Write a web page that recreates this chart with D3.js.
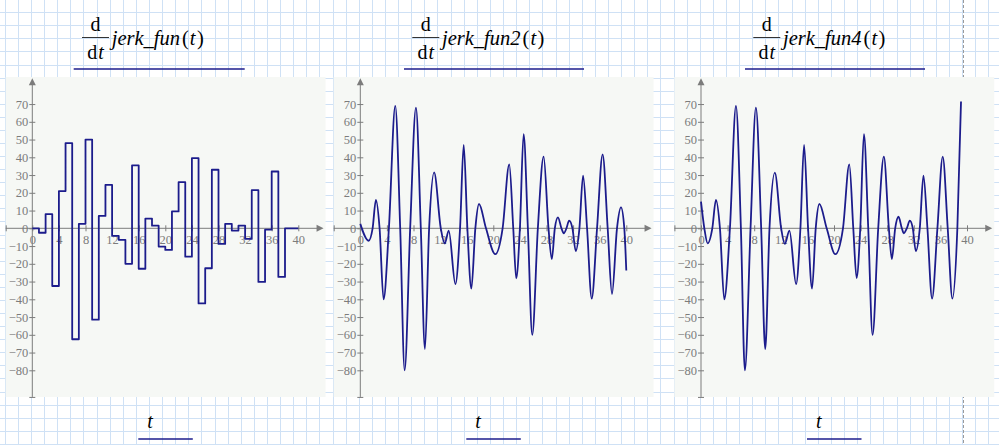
<!DOCTYPE html>
<html>
<head>
<meta charset="utf-8">
<script src="https://cdn.jsdelivr.net/npm/d3@7"></script>
<style>
html, body { margin: 0; padding: 0; background: #fff; }
svg { display: block; }
</style>
</head>
<body>
<script>
var width = 999,
    height = 445;

// tick values shown on the axes
var xTicks = [-4, 0, 4, 8, 12, 16, 20, 24, 28, 32, 36, 40];
var yTicks = [-95, -80, -70, -60, -50, -40, -30, -20, -10, 0, 10, 20, 30, 40, 50, 60, 70];

// d/dt jerk_fun(t): piecewise constant, one value per unit interval
var stepT = [0, 1, 2, 3, 4, 5, 6, 7, 8, 9, 10, 11, 12, 13, 14, 15, 16, 17, 18, 19,
             20, 21, 22, 23, 24, 25, 26, 27, 28, 29, 30, 31, 32, 33, 34, 35, 36, 37, 38, 39, 40];
var stepV = [0, -2.5, 8, -32.5, 21, 48, -62.5, 2.5, 50, -51.5, 7, 24.5, -4.3, -6.5, -20, 35.5,
             -22.8, 5.5, 1.5, -10.3, -12.2, 9.5, 26, -16, 39.5, -42.3, -22.5, 33, -8.8, 2.5,
             -1.3, 1.5, -6, 21.5, -30.2, -0.8, 32, -27.4, 0, 0, 0];

// d/dt jerk_fun2(t): extrema and zero crossings
var fun2T = [0, 1.25, 1.85, 2.35, 2.9, 3.5, 4.3, 5.26, 6.0, 6.67, 7.5, 8.37, 9.1, 9.72, 10.35,
             11.1, 12.1, 12.7, 13.3, 14.3, 15.0, 15.55, 16.1, 16.7, 17.3, 17.85, 18.9, 20.3,
             21.4, 22.4, 23.0, 23.45, 24.0, 24.56, 25.2, 25.86, 26.7, 27.57, 28.3, 28.8, 29.25,
             29.72, 30.25, 30.6, 31.0, 31.4, 31.9, 32.4, 32.95, 33.5, 34.1, 34.8, 35.6, 36.44,
             37.2, 37.85, 38.6, 39.2, 39.7, 40];
var fun2V = [2.5, -7, 0, 16, 0, -40, 0, 69, 0, -80, 0, 68, 0, -68, 0,
             31.5, 0, -8.6, -1.3, -31.4, 0, 47, 0, -34, 0, 13.7, 0, -14.6,
             0, 36, 0, -28.2, 0, 53, 0, -60, 0, 40.4, 0, -17.3, 0,
             6.2, 0, -2.8, 0, 4.3, 0, -12.8, 0, 29.7, 0, -39.6, 0, 41.7,
             0, -37, 0, 11.8, 0, -23.8];

// d/dt jerk_fun4(t)
var fun4T = [0, 0.5, 1.0, 1.7, 2.25, 2.85, 3.5, 4.35, 5.26, 6.0, 6.6, 7.45, 8.26, 9.05, 9.66,
             10.3, 11.1, 12.05, 12.6, 13.3, 14.3, 14.95, 15.5, 16.1, 16.7, 17.25, 17.8, 18.9,
             20.2, 21.35, 22.3, 22.9, 23.4, 23.95, 24.5, 25.15, 25.8, 26.65, 27.5, 28.25, 28.7,
             29.2, 29.7, 30.2, 30.5, 30.95, 31.4, 31.85, 32.3, 32.9, 33.45, 34.05, 34.75, 35.55,
             36.35, 37.1, 37.8, 38.55, 39.1];
var fun4V = [15, 0, -8.5, 0, 16, 0, -40, 0, 69, 0, -80, 0, 68, 0, -68,
             0, 31.4, 0, -8.8, -1.3, -31.4, 0, 47, 0, -34, 0, 13.7, 0,
             -14.6, 0, 36, 0, -28, 0, 53, 0, -60, 0, 40.4, 0, -17.3,
             0, 6.5, 0, -2.8, 0, 4.3, 0, -12.8, 0, 29.7, 0, -39.6, 0,
             40.4, 0, -39.6, 0, 71.4];

var names = ["jerk_fun", "jerk_fun2", "jerk_fun4"];

var panels = [
    {axisX: 32.3, head: 82, lineW: 171, t: stepT, v: stepV, curve: d3.curveStepAfter},
    {axisX: 360.3, head: 412.3, lineW: 180, t: fun2T, v: fun2V, curve: d3.curveMonotoneX},
    {axisX: 701, head: 753.3, lineW: 180, t: fun4T, v: fun4V, curve: d3.curveMonotoneX}
];

var ink = "#1c1c8c",
    axisGray = "#7c7c7c",
    serif = "'Liberation Serif', 'DejaVu Serif', serif";

var svg = d3.select("body").append("svg")
    .attr("width", width)
    .attr("height", height);

// graph paper
var grid = svg.append("g")
    .attr("stroke", "#cfe1f5")
    .attr("stroke-width", 1);
for (var gx = 5.2; gx < width; gx += 13.115) {
    grid.append("line")
        .attr("x1", Math.floor(gx) + 0.5).attr("x2", Math.floor(gx) + 0.5)
        .attr("y1", 0).attr("y2", height);
}
for (var gy = 12.7; gy < height; gy += 13.08) {
    grid.append("line")
        .attr("y1", Math.floor(gy) + 0.5).attr("y2", Math.floor(gy) + 0.5)
        .attr("x1", 0).attr("x2", width);
}

// page break
svg.append("line")
    .attr("x1", 963.5).attr("x2", 963.5)
    .attr("y1", 0).attr("y2", height)
    .attr("stroke", "#9a9a9a")
    .attr("stroke-dasharray", "3,2");

panels.forEach(function(p, i) {
    var x = d3.scaleLinear().domain([0, 40]).range([p.axisX, p.axisX + 266]);
    var y = d3.scaleLinear().domain([-80, 70]).range([370.3, 104.05]);

    var g = svg.append("g");

    g.append("rect")
        .attr("x", x(-4))
        .attr("y", 77)
        .attr("width", x(44.1) - x(-4))
        .attr("height", 320)
        .attr("fill", "#f6f8f5");

    // axis lines with arrow heads
    var x0 = x(-4), x1 = x(43.8), y0 = y(0);
    var yb = y(-95), yt = y(84.5), ax = p.axisX;
    g.append("line")
        .attr("x1", x0).attr("x2", x1 - 5)
        .attr("y1", y0).attr("y2", y0)
        .attr("stroke", axisGray);
    g.append("path")
        .attr("d", "M" + x1 + "," + y0 + "L" + (x1 - 7) + "," + (y0 - 3.5) + "L" + (x1 - 7) + "," + (y0 + 3.5) + "Z")
        .attr("fill", axisGray);
    g.append("line")
        .attr("x1", ax).attr("x2", ax)
        .attr("y1", yb).attr("y2", yt + 5)
        .attr("stroke", axisGray);
    g.append("path")
        .attr("d", "M" + ax + "," + yt + "L" + (ax - 3.5) + "," + (yt + 7) + "L" + (ax + 3.5) + "," + (yt + 7) + "Z")
        .attr("fill", axisGray);

    var xAxis = d3.axisBottom(x)
        .tickValues(xTicks)
        .tickSize(3)
        .tickPadding(4)
        .tickFormat(function(d) { return d < 0 ? "" : d; });
    var gxA = g.append("g")
        .attr("transform", "translate(0," + y0 + ")")
        .call(xAxis);
    gxA.select(".domain").remove();
    gxA.selectAll(".tick line").attr("y1", -3);

    var yAxis = d3.axisLeft(y)
        .tickValues(yTicks)
        .tickSize(3)
        .tickPadding(1)
        .tickFormat(function(d) { return d < -80 ? "" : d3.format("d")(d); });
    var gyA = g.append("g")
        .attr("transform", "translate(" + ax + ",0)")
        .call(yAxis);
    gyA.select(".domain").remove();
    gyA.selectAll(".tick line").attr("x1", 3);

    [gxA, gyA].forEach(function(a) {
        a.attr("color", axisGray)
            .attr("font-family", serif)
            .attr("font-size", 12.5);
    });

    // the derivative
    var line = d3.line()
        .x(function(d) { return x(d[0]); })
        .y(function(d) { return y(d[1]); })
        .curve(p.curve);
    g.append("path")
        .datum(d3.zip(p.t, p.v))
        .attr("fill", "none")
        .attr("stroke", ink)
        .attr("stroke-width", 1.8)
        .attr("stroke-linejoin", "round")
        .attr("d", line);

    // header  d/dt name(t)
    var h = p.head;
    g.append("line")
        .attr("x1", h).attr("x2", h + 27)
        .attr("y1", 37.5).attr("y2", 37.5)
        .attr("stroke", "#333");
    g.append("text")
        .attr("x", h + 13.5).attr("y", 31)
        .attr("text-anchor", "middle")
        .attr("font-family", serif).attr("font-size", 20)
        .text("d");
    var dt = g.append("text")
        .attr("x", h + 13.5).attr("y", 59)
        .attr("text-anchor", "middle")
        .attr("font-family", serif).attr("font-size", 20);
    dt.append("tspan").text("d");
    dt.append("tspan").attr("dx", 1).attr("font-style", "italic").text("t");

    var fn = g.append("text")
        .attr("x", h + 29.7).attr("y", 45)
        .attr("font-family", serif).attr("font-size", 20.5);
    fn.append("tspan").attr("font-style", "italic").text(names[i]);
    fn.append("tspan").attr("dx", 2).text("(");
    fn.append("tspan").attr("dx", 1).attr("font-style", "italic").text("t");
    fn.append("tspan").attr("dx", 1.5).text(")");

    g.append("line")
        .attr("x1", h - 8.3).attr("x2", h - 8.3 + p.lineW)
        .attr("y1", 69).attr("y2", 69)
        .attr("stroke", ink).attr("stroke-width", 1.6);

    // x label
    g.append("text")
        .attr("x", ax + 115).attr("y", 428)
        .attr("font-family", serif).attr("font-size", 20)
        .attr("font-style", "italic")
        .text("t");
    g.append("line")
        .attr("x1", ax + 106).attr("x2", ax + 160.5)
        .attr("y1", 439).attr("y2", 439)
        .attr("stroke", ink).attr("stroke-width", 1.6);
});
</script>
</body>
</html>
